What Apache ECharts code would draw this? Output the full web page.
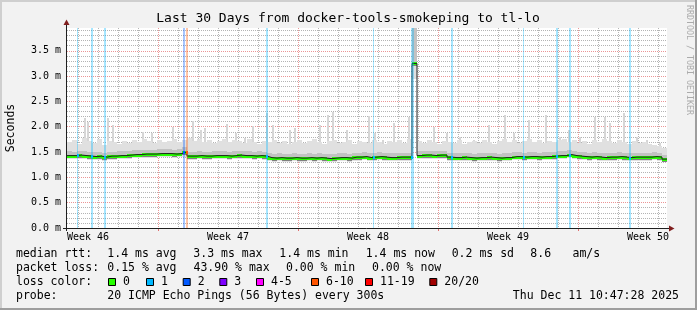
<!DOCTYPE html>
<html><head><meta charset="utf-8">
<script src="https://cdn.jsdelivr.net/npm/echarts@6/dist/echarts.min.js"></script>
<style>html,body{margin:0;padding:0;background:#f2f2f2}#c{width:697px;height:310px}</style>
</head><body><div id="c"></div>
<script>
// ---------------- data ----------------
const titleText = 'Last 30 Days from docker-tools-smokeping to tl-lo';
const yTitle = 'Seconds';
const watermark = 'RRDTOOL / TOBI OETIKER';
// time axis: days since Sun 2025-11-09 00:00
const tStart = 2.449, tEnd = 32.449;
const binDays = 0.25;
const yMax = 3.95;
const yTickValues = [0, 0.5, 1.0, 1.5, 2.0, 2.5, 3.0, 3.5];
const yTickLabels = ['0.0 m','0.5 m','1.0 m','1.5 m','2.0 m','2.5 m','3.0 m','3.5 m'];
const weekLines = [7, 14, 21, 28];
const weekLabelPos = [3.5, 10.5, 17.5, 24.5, 31.5];
const weekLabels = ['Week 46','Week 47','Week 48','Week 49','Week 50'];

// median rtt (ms), one value per 6-hour bin
const median = [
 1.43,1.43,1.44,1.43,1.42,1.41,1.42,1.40,1.42,1.42,
 1.43,1.43,1.44,1.45,1.45,1.46,1.46,1.46,1.47,1.47,
 1.47,1.46,1.47,1.50,1.42,1.42,1.43,1.42,1.42,1.43,
 1.43,1.43,1.42,1.43,1.44,1.43,1.43,1.42,1.43,1.42,
 1.39,1.38,1.39,1.38,1.38,1.39,1.38,1.38,1.39,1.38,
 1.39,1.38,1.37,1.38,1.39,1.39,1.38,1.40,1.40,1.41,
 1.39,1.40,1.41,1.40,1.39,1.39,1.40,1.40,1.40,3.25,
 1.43,1.44,1.44,1.43,1.44,1.44,1.40,1.39,1.39,1.40,
 1.39,1.38,1.39,1.39,1.40,1.39,1.38,1.39,1.39,1.41,
 1.41,1.40,1.41,1.41,1.40,1.41,1.41,1.42,1.43,1.43,
 1.45,1.43,1.42,1.41,1.40,1.41,1.40,1.39,1.40,1.40,
 1.41,1.40,1.39,1.40,1.40,1.40,1.40,1.41,1.40,1.36];
// lowest ping (bottom of smoke)
const smokeLow = [
 1.36,1.36,1.37,1.36,1.35,1.34,1.35,1.33,1.35,1.35,
 1.36,1.36,1.37,1.38,1.38,1.39,1.39,1.39,1.40,1.40,
 1.40,1.39,1.40,1.40,1.35,1.35,1.36,1.35,1.35,1.36,
 1.36,1.36,1.35,1.36,1.37,1.36,1.36,1.35,1.36,1.35,
 1.32,1.31,1.32,1.31,1.31,1.32,1.31,1.31,1.32,1.31,
 1.32,1.31,1.30,1.31,1.32,1.32,1.31,1.33,1.33,1.34,
 1.32,1.33,1.34,1.33,1.32,1.32,1.33,1.33,1.33,2.95,
 1.36,1.37,1.37,1.36,1.37,1.37,1.33,1.32,1.32,1.33,
 1.32,1.31,1.32,1.32,1.33,1.32,1.31,1.32,1.32,1.34,
 1.34,1.33,1.34,1.34,1.33,1.34,1.34,1.35,1.36,1.36,
 1.38,1.36,1.35,1.34,1.33,1.34,1.33,1.32,1.33,1.33,
 1.34,1.33,1.32,1.33,1.33,1.33,1.33,1.34,1.33,1.30];
// upper edge of the dense smoke
const smokeMid = [
 1.52,1.51,1.53,1.52,1.51,1.50,1.51,1.49,1.51,1.51,
 1.52,1.52,1.53,1.54,1.54,1.55,1.55,1.55,1.56,1.56,
 1.56,1.55,1.56,1.59,1.51,1.51,1.52,1.51,1.51,1.52,
 1.52,1.52,1.51,1.52,1.53,1.52,1.52,1.51,1.52,1.51,
 1.48,1.47,1.48,1.47,1.47,1.48,1.47,1.47,1.48,1.47,
 1.48,1.47,1.46,1.47,1.48,1.48,1.47,1.49,1.49,1.50,
 1.48,1.49,1.50,1.49,1.48,1.48,1.49,1.49,1.49,4.50,
 1.52,1.53,1.53,1.52,1.53,1.53,1.49,1.48,1.48,1.49,
 1.48,1.47,1.48,1.48,1.49,1.48,1.47,1.48,1.48,1.50,
 1.50,1.49,1.50,1.50,1.49,1.50,1.50,1.51,1.52,1.52,
 1.54,1.52,1.51,1.50,1.49,1.50,1.49,1.48,1.49,1.49,
 1.50,1.49,1.48,1.49,1.49,1.49,1.49,1.50,1.49,1.45];
// upper edge of the light smoke
const smokeTop = [
 1.70,1.74,1.66,1.78,1.72,1.68,1.75,1.64,1.72,1.70,
 1.66,1.72,1.68,1.74,1.70,1.76,1.72,1.68,1.74,1.70,
 1.72,1.76,1.70,1.74,1.78,1.72,1.76,1.70,1.74,1.68,
 1.72,1.76,1.70,1.74,1.72,1.68,1.76,1.70,1.66,1.72,
 1.70,1.74,1.68,1.72,1.66,1.70,1.74,1.68,1.72,1.76,
 1.70,1.66,1.72,1.74,1.68,1.70,1.74,1.66,1.72,1.70,
 1.68,1.74,1.70,1.66,1.72,1.70,1.74,1.68,1.76,4.50,
 1.72,1.68,1.74,1.70,1.66,1.72,1.70,1.68,1.74,1.66,
 1.70,1.72,1.68,1.74,1.70,1.66,1.72,1.76,1.70,1.74,
 1.68,1.72,1.76,1.70,1.74,1.68,1.72,1.70,1.74,1.76,
 1.70,1.74,1.68,1.72,1.66,1.74,1.70,1.76,1.72,1.68,
 1.74,1.70,1.66,1.72,1.68,1.70,1.66,1.64,1.62,1.58];
// isolated slow pings (max rtt spikes)
const spikeDays = [2.899,3.349,3.499,4.499,4.749,6.249,6.699,7.749,8.749,9.149,9.349,9.599,10.449,10.899,11.349,11.749,12.449,12.749,13.599,13.849,15.099,15.499,15.749,16.449,17.549,17.849,18.249,18.799,19.549,20.799,21.449,22.099,22.799,23.549,24.349,24.799,25.549,26.399,27.099,27.549,28.099,28.849,29.349,29.599,30.299,30.949,31.449,32.099];
const spikeValues = [1.74,2.17,2.10,2.17,2.03,1.90,1.88,2.00,2.11,1.94,1.98,1.74,2.05,1.88,1.78,2.02,2.27,2.04,1.94,1.98,2.04,2.23,2.29,1.94,2.21,1.88,1.74,2.08,2.19,2.00,1.88,1.80,1.74,2.04,2.23,1.88,2.13,2.23,1.80,1.94,1.80,2.19,2.19,2.08,2.27,1.80,1.74,1.68];
// packet loss events
const lossDays  = [2.949,3.649,4.299,8.249,8.399,12.399,17.749,19.649,21.649,25.249,26.899,27.549,30.549];
const lossDur   = [0.05,0.10,0.10,0.10,0.10,0.10,0.05,0.15,0.10,0.05,0.10,0.10,0.10];
const lossLevel = [1,1,1,2,5,1,1,1,1,1,1,1,1];
const lossColors = ['#26ff00','#00b8ff','#0059ff','#7e00ff','#ff00ff','#ff5500','#ff0000','#a10000'];
const lossLabels = ['0','1','2','3','4-5','6-10','11-19','20/20'];
// legend texts
const rttLabel = 'median rtt:';
const rttStats = ['1.4 ms avg','3.3 ms max','1.4 ms min','1.4 ms now','0.2 ms sd','8.6','am/s'];
const lossLabel = 'packet loss:';
const lossStats = ['0.15 % avg','43.90 % max','0.00 % min','0.00 % now'];
const colorLabel = 'loss color:';
const probeLabel = 'probe:';
const probeText = '20 ICMP Echo Pings (56 Bytes) every 300s';
const dateText = 'Thu Dec 11 10:47:28 2025';

// ---------------- layout / style ----------------
const MONO = '"DejaVu Sans Mono", monospace';
const C = {light:'#e0e0e0', mid:'#c2c2c2', dark:'#808080', minor:'#b4b4b4', major:'#eb9595',
           axis:'#1f1f1f', arrow:'#801f1f', medianDark:'#202020'};
const rttX = [107.3,193.3,279.3,365.7,451.7,530.3,572.5];
const lossX = [107.3,193.5,286,372];
const boxX = [108,146,182.7,219.3,256,311,365,429.3];
const rowY = [254,268,282,296];

function rgba(hex,a){const n=parseInt(hex.slice(1),16);return 'rgba('+(n>>16)+','+((n>>8)&255)+','+(n&255)+','+a+')';}
function binOf(d){return Math.min(median.length-1, Math.max(0, Math.floor((d-tStart)/binDays)));}

const minorDays=[]; for(let d=Math.ceil(tStart); d<=tEnd; d++) minorDays.push(d);
const minorY=[]; for(let k=0;k<=39;k++) minorY.push(+(k*0.1).toFixed(1));

function rectBetween(api,x0,x1,lo,hi,fill){
  const a=api.coord([x0,hi]), b=api.coord([x1,lo]);
  const xa=Math.round(a[0]), xb=Math.round(b[0]), ya=Math.round(a[1]), yb=Math.round(b[1]);
  return {type:'rect', shape:{x:xa,y:ya,width:Math.max(1,xb-xa),height:Math.max(1,yb-ya)}, style:{fill:fill}};
}

const binData = median.map((m,i)=>[tStart+i*binDays, m]);
const lineData = binData.concat([[tEnd, median[median.length-1]]]);

const chart = echarts.init(document.getElementById('c'), null, {renderer:'canvas'});
const texts = [];
function txt(x,y,s,opt){texts.push(Object.assign({type:'text', x:x, y:y, silent:true,
  style:Object.assign({text:s, font:'11.5px '+MONO, fill:'#000', align:'left', verticalAlign:'middle'}, opt||{})}));}
txt(348,19,titleText,{font:'13px '+MONO, align:'center'});
texts.push({type:'text', x:11, y:128, rotation:Math.PI/2, silent:true,
  style:{text:yTitle, font:'11.5px '+MONO, fill:'#000', align:'center', verticalAlign:'middle'}});
texts.push({type:'text', x:689.5, y:60, rotation:-Math.PI/2, silent:true,
  style:{text:watermark, font:'8.3px '+MONO, fill:'#ababab', align:'center', verticalAlign:'middle'}});
txt(16,rowY[0],rttLabel); rttStats.forEach((s,k)=>txt(rttX[k],rowY[0],s));
txt(16,rowY[1],lossLabel); lossStats.forEach((s,k)=>txt(lossX[k],rowY[1],s));
txt(16,rowY[2],colorLabel);
lossLabels.forEach((s,k)=>{
  texts.push({type:'rect', silent:true, shape:{x:boxX[k]+0.5,y:rowY[2]-3.5,width:7,height:7},
    style:{fill:lossColors[k], stroke:'#000', lineWidth:1}});
  txt(boxX[k]+15,rowY[2],s);
});
txt(16,rowY[3],probeLabel); txt(107.3,rowY[3],probeText);
txt(679,rowY[3],dateText,{align:'right'});
// frame, axes, arrows
const deco = [
  {type:'rect', shape:{x:0,y:0,width:697,height:2}, style:{fill:'#cfcfcf'}},
  {type:'rect', shape:{x:0,y:0,width:2,height:310}, style:{fill:'#cfcfcf'}},
  {type:'rect', shape:{x:0,y:308,width:697,height:2}, style:{fill:'#9e9e9e'}},
  {type:'rect', shape:{x:695,y:0,width:2,height:310}, style:{fill:'#9e9e9e'}},
  {type:'line', shape:{x1:66.5,y1:231,x2:66.5,y2:24}, style:{stroke:C.axis,lineWidth:1}},
  {type:'line', shape:{x1:63,y1:228.5,x2:670,y2:228.5}, style:{stroke:C.axis,lineWidth:1}},
  {type:'polygon', shape:{points:[[63.5,25],[69.5,25],[66.5,19.5]]}, style:{fill:C.arrow}},
  {type:'polygon', shape:{points:[[669,225.5],[669,231.5],[674.5,228.5]]}, style:{fill:C.arrow}}
].map(e=>Object.assign(e,{silent:true, z:100}));

const xBase = {type:'value', min:tStart, max:tEnd, position:'bottom', axisLine:{show:false}, axisLabel:{show:false}};
chart.setOption({
  animation:false,
  backgroundColor:'#f2f2f2',
  grid:{left:67, top:28, width:600, height:200, show:true, backgroundColor:'#ffffff', borderWidth:0},
  xAxis:[
    Object.assign({}, xBase, {axisTick:{show:false, customValues:minorDays},
      splitLine:{show:true, lineStyle:{color:C.minor, width:1, type:[1,1]}}, z:0}),
    Object.assign({}, xBase, {axisTick:{show:true, customValues:weekLines, length:3, lineStyle:{color:'#e07070'}},
      splitLine:{show:true, lineStyle:{color:C.major, width:1, type:[1,1]}}, z:1}),
    Object.assign({}, xBase, {axisTick:{show:false}, splitLine:{show:false},
      axisLabel:{show:true, customValues:weekLabelPos, margin:4, color:'#000', fontFamily:MONO, fontSize:10,
        formatter:v=>{const k=weekLabelPos.findIndex(p=>Math.abs(p-v)<1e-6);return k>=0?weekLabels[k]:'';}}})
  ],
  yAxis:[
    {type:'value', min:0, max:yMax, position:'left', axisLine:{show:false},
     axisTick:{show:false, customValues:yTickValues},
     axisLabel:{customValues:yTickValues, margin:6, color:'#000', fontFamily:MONO, fontSize:10,
       formatter:v=>{const k=yTickValues.findIndex(p=>Math.abs(p-v)<1e-6);return k>=0?yTickLabels[k]:'';}},
     splitLine:{show:true, lineStyle:{color:C.major, width:1, type:[1,1]}}, z:1},
    {type:'value', min:0, max:yMax, position:'left', axisLine:{show:false},
     axisTick:{show:false, customValues:minorY}, axisLabel:{show:false},
     splitLine:{show:true, lineStyle:{color:C.minor, width:1, type:[1,1]}}, z:0}
  ],
  series:[
    {type:'custom', name:'spikes', clip:true, data:spikeDays.map((d,k)=>[d,spikeValues[k]]),
     renderItem:(p,api)=>{const k=p.dataIndex; const c=api.coord([spikeDays[k],spikeValues[k]]); const b=api.coord([spikeDays[k],1.5]);
       return {type:'rect', shape:{x:Math.round(c[0])-1,y:Math.round(c[1]),width:2,height:Math.round(b[1])-Math.round(c[1])}, style:{fill:'#d6d6d6'}};}},
    {type:'custom', name:'smoke', clip:true, data:binData,
     renderItem:(p,api)=>{const i=p.dataIndex; const x0=tStart+i*binDays, x1=x0+binDays, m=median[i];
       return {type:'group', children:[
         rectBetween(api,x0,x1,smokeLow[i],smokeTop[i],C.light),
         rectBetween(api,x0,x1,m-0.05,smokeMid[i],C.mid),
         rectBetween(api,x0,x1,m-0.055,m+0.02,C.dark)]};}},
    {type:'custom', name:'loss', clip:true, data:lossDays.map((d,k)=>[d,lossLevel[k]]),
     renderItem:(p,api)=>{const k=p.dataIndex; const cs=p.coordSys;
       const a=api.coord([lossDays[k],0]), b=api.coord([lossDays[k]+lossDur[k],0]);
       const xa=Math.round(a[0]), w=Math.max(1,Math.round(b[0])-xa);
       const col=lossColors[lossLevel[k]];
       const ym=Math.round(api.coord([lossDays[k],median[binOf(lossDays[k])]])[1]);
       return {type:'group', children:[
         {type:'rect', shape:{x:xa,y:cs.y,width:w,height:cs.height}, style:{fill:rgba(col,0.35)}},
         {type:'rect', shape:{x:xa,y:ym-1,width:2,height:3}, style:{fill:col}, z2:10}]};}, z:4},
    {type:'line', name:'medianDark', data:lineData, step:'end', showSymbol:false, symbol:'none',
     lineStyle:{color:C.medianDark, width:1}, z:3},
    {type:'custom', name:'median', clip:true, data:binData,
     renderItem:(p,api)=>{const i=p.dataIndex; const x0=tStart+i*binDays, x1=x0+binDays;
       const a=api.coord([x0,median[i]]), b=api.coord([x1,median[i]]);
       const y=Math.round(a[1]);
       return {type:'rect', shape:{x:Math.round(a[0]),y:y-1,width:Math.round(b[0])-Math.round(a[0]),height:3}, style:{fill:lossColors[0]}};}, z:3}
  ],
  graphic:{elements: deco.concat(texts.map(e=>Object.assign(e,{z:100})))}
});
</script></body></html>
